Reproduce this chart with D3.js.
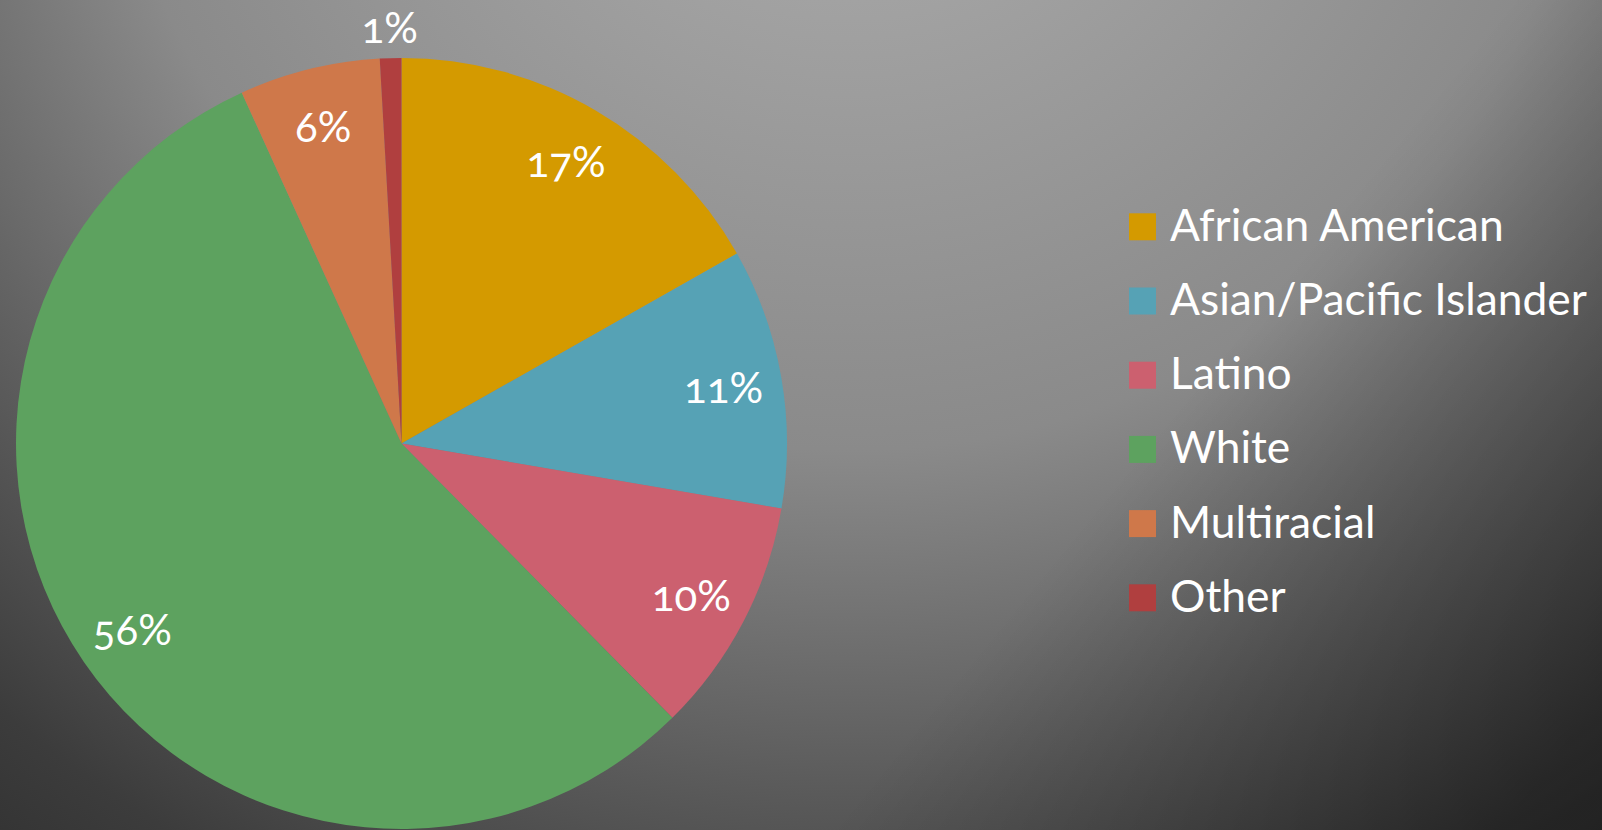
<!DOCTYPE html>
<html>
<head>
<meta charset="utf-8">
<script src="https://cdn.jsdelivr.net/npm/d3@7"></script>
<style>
  html, body { margin: 0; padding: 0; overflow: hidden; }
  svg { display: block; font-family: Lato, "Open Sans", sans-serif; }
</style>
</head>
<body>
<svg id="chart" width="1602" height="830"></svg>
<script>
// ---- data ----
const categories = ["African American", "Asian/Pacific Islander", "Latino", "White", "Multiracial", "Other"];
const shares = [16.8, 10.9, 9.9, 55.6, 5.9, 0.9];
const percentLabels = ["17%", "11%", "10%", "56%", "6%", "1%"];
const sliceColors = ["#D49A00", "#56A2B5", "#CC606F", "#5DA25F", "#CF784A", "#B03F3F"];

// ---- layout ----
const W = 1602, H = 830;
const cx = 401.5, cy = 443.5, R = 385.5;
const svg = d3.select("#chart");

// background gradient
const defs = svg.append("defs");
const bg = defs.append("radialGradient")
  .attr("id", "bg")
  .attr("gradientUnits", "userSpaceOnUse")
  .attr("cx", 850).attr("cy", -300).attr("r", 1500)
  .attr("fx", 850).attr("fy", -300);
[[0, "#a6a6a6"], [0.2, "#a2a2a2"], [0.5, "#8a8a8a"], [0.72, "#5c5c5c"], [0.88, "#3c3c3c"], [1, "#2e2e2e"]]
  .forEach(([o, c]) => bg.append("stop").attr("offset", o).attr("stop-color", c));
const shade = defs.append("linearGradient")
  .attr("id", "shade")
  .attr("gradientUnits", "userSpaceOnUse")
  .attr("x1", 1100).attr("y1", 500).attr("x2", 1500).attr("y2", 830);
shade.append("stop").attr("offset", 0).attr("stop-color", "#000").attr("stop-opacity", 0);
shade.append("stop").attr("offset", 1).attr("stop-color", "#000").attr("stop-opacity", 0.4);
svg.append("rect").attr("width", W).attr("height", H).attr("fill", "url(#bg)");
svg.append("rect").attr("width", W).attr("height", H).attr("fill", "url(#shade)");

// pie
const pie = d3.pie().sort(null).value(d => d)(shares);
const arc = d3.arc().innerRadius(0).outerRadius(R);
const g = svg.append("g").attr("transform", `translate(${cx},${cy})`);
g.selectAll("path.slice").data(pie).join("path")
  .attr("class", "slice")
  .attr("d", arc)
  .attr("fill", (d, i) => sliceColors[i]);

// labels
const inLabel = d3.arc().innerRadius(R * 0.848).outerRadius(R * 0.848);
const outLabel = d3.arc().innerRadius(R * 1.08).outerRadius(R * 1.08);
g.selectAll("text.pct").data(pie).join("text")
  .attr("class", "pct")
  .attr("transform", (d, i) => {
    const p = (shares[i] < 3 ? outLabel : inLabel).centroid(d);
    return `translate(${p[0]},${p[1]})`;
  })
  .attr("text-anchor", "middle")
  .attr("dominant-baseline", "central")
  .attr("fill", "#ffffff")
  .attr("font-size", 42)
  .style("font-variant-numeric", "oldstyle-nums")
  .text((d, i) => percentLabels[i]);

// legend
const legX = 1129, legY0 = 213.3, legStep = 74.2, sw = 27;
const leg = svg.append("g");
const rows = leg.selectAll("g").data(categories).join("g")
  .attr("transform", (d, i) => `translate(${legX},${legY0 + i * legStep})`);
rows.append("rect").attr("width", sw).attr("height", sw)
  .attr("fill", (d, i) => sliceColors[i]);
const texts = rows.append("text")
  .attr("x", 41).attr("y", 27.4)
  .attr("fill", "#ffffff")
  .attr("font-size", 42)
  .text(d => d);
// fit the longest entry to the reference's width (~417px)
const maxW = d3.max(texts.nodes(), n => n.getComputedTextLength());
const fs = Math.max(36, Math.min(46, 42 * 417 / maxW));
texts.attr("font-size", fs);
</script>
</body>
</html>
